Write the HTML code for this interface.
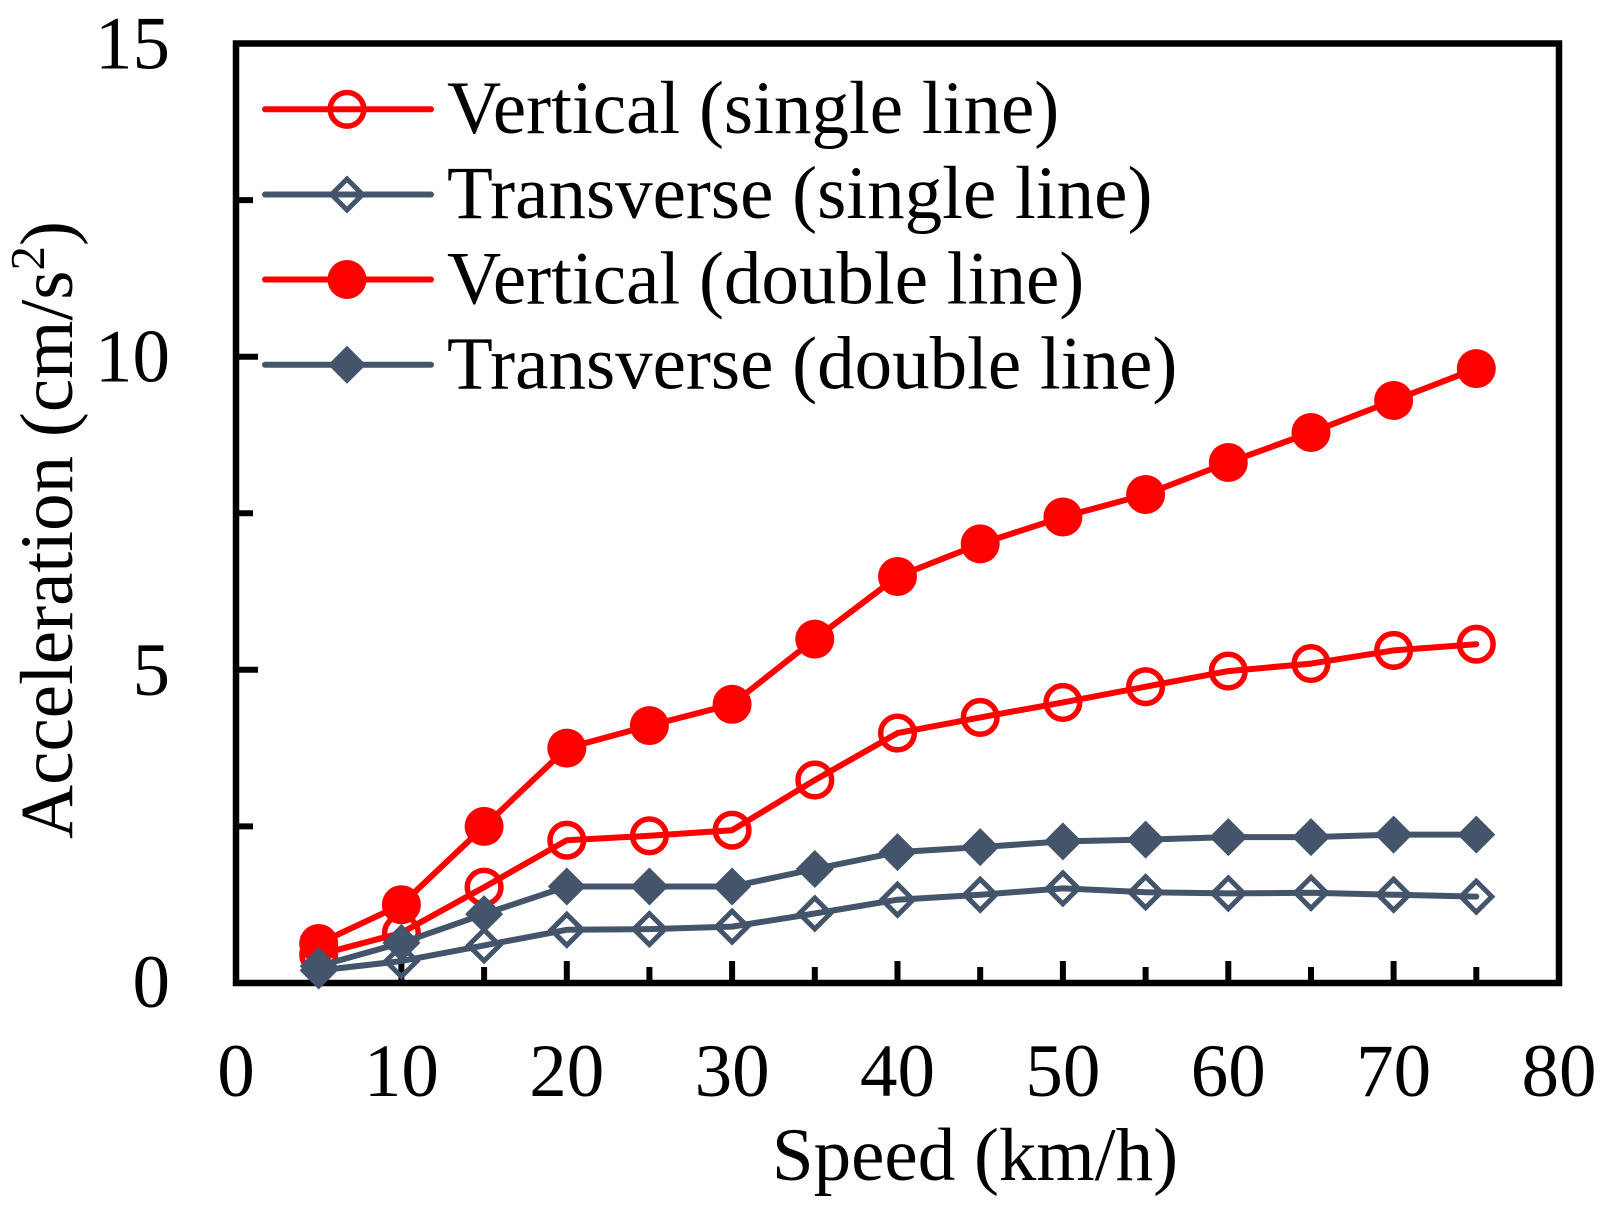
<!DOCTYPE html>
<html>
<head>
<meta charset="utf-8">
<style>
  html, body { margin: 0; padding: 0; background: #ffffff; }
  svg { display: block; }
  text { font-family: "Liberation Serif", "Times New Roman", serif; fill: #000; }
</style>
</head>
<body>
<svg width="1613" height="1211" viewBox="0 0 1613 1211" xmlns="http://www.w3.org/2000/svg">
  <rect x="0" y="0" width="1613" height="1211" fill="#ffffff"/>

  <!-- ticks -->
  <g stroke="#000" stroke-width="6">
    <!-- x ticks -->
    <line x1="318.7" y1="983" x2="318.7" y2="967"/>
    <line x1="401.4" y1="983" x2="401.4" y2="961"/>
    <line x1="484.1" y1="983" x2="484.1" y2="967"/>
    <line x1="566.8" y1="983" x2="566.8" y2="961"/>
    <line x1="649.4" y1="983" x2="649.4" y2="967"/>
    <line x1="732.1" y1="983" x2="732.1" y2="961"/>
    <line x1="814.8" y1="983" x2="814.8" y2="967"/>
    <line x1="897.5" y1="983" x2="897.5" y2="961"/>
    <line x1="980.2" y1="983" x2="980.2" y2="967"/>
    <line x1="1062.9" y1="983" x2="1062.9" y2="961"/>
    <line x1="1145.6" y1="983" x2="1145.6" y2="967"/>
    <line x1="1228.3" y1="983" x2="1228.3" y2="961"/>
    <line x1="1311.0" y1="983" x2="1311.0" y2="967"/>
    <line x1="1393.6" y1="983" x2="1393.6" y2="961"/>
    <line x1="1476.3" y1="983" x2="1476.3" y2="967"/>
    <!-- y ticks -->
    <line x1="236" y1="826.4" x2="253" y2="826.4"/>
    <line x1="236" y1="669.8" x2="258" y2="669.8"/>
    <line x1="236" y1="513.3" x2="253" y2="513.3"/>
    <line x1="236" y1="356.7" x2="258" y2="356.7"/>
    <line x1="236" y1="200.1" x2="253" y2="200.1"/>
  </g>

  <!-- frame -->
  <rect x="236" y="43.5" width="1323" height="939.5" fill="none" stroke="#000" stroke-width="6.5"/>

  <!-- Vertical (single line) -->
  <g stroke="#ff0000" stroke-width="6" fill="none" stroke-linejoin="round" stroke-linecap="round">
    <polyline points="318.7,954.8 401.4,932.9 484.1,887.2 566.8,840.2 649.4,835.8 732.1,830.2 814.8,780.1 897.5,733.1 980.2,717.4 1062.9,702.4 1145.6,686.7 1228.3,671.1 1311.0,663.6 1393.6,650.4 1476.3,644.2"/>
    <g stroke-width="5.5">
      <circle cx="318.7" cy="954.8" r="16.8"/>
      <circle cx="401.4" cy="932.9" r="16.8"/>
      <circle cx="484.1" cy="887.2" r="16.8"/>
      <circle cx="566.8" cy="840.2" r="16.8"/>
      <circle cx="649.4" cy="835.8" r="16.8"/>
      <circle cx="732.1" cy="830.2" r="16.8"/>
      <circle cx="814.8" cy="780.1" r="16.8"/>
      <circle cx="897.5" cy="733.1" r="16.8"/>
      <circle cx="980.2" cy="717.4" r="16.8"/>
      <circle cx="1062.9" cy="702.4" r="16.8"/>
      <circle cx="1145.6" cy="686.7" r="16.8"/>
      <circle cx="1228.3" cy="671.1" r="16.8"/>
      <circle cx="1311.0" cy="663.6" r="16.8"/>
      <circle cx="1393.6" cy="650.4" r="16.8"/>
      <circle cx="1476.3" cy="644.2" r="16.8"/>
    </g>
  </g>

  <!-- Transverse (single line) -->
  <g stroke="#44546a" stroke-width="6" fill="none" stroke-linejoin="round" stroke-linecap="round">
    <polyline points="318.7,970.5 401.4,961.1 484.1,945.4 566.8,929.8 649.4,929.1 732.1,926.6 814.8,913.5 897.5,899.7 980.2,894.7 1062.9,888.4 1145.6,892.2 1228.3,893.4 1311.0,892.8 1393.6,894.7 1476.3,896.6"/>
    <g stroke-width="5" stroke-linejoin="miter">
      <path d="M318.7,955 l15.5,15.5 l-15.5,15.5 l-15.5,-15.5 z"/>
      <path d="M401.4,945.6 l15.5,15.5 l-15.5,15.5 l-15.5,-15.5 z"/>
      <path d="M484.1,929.9 l15.5,15.5 l-15.5,15.5 l-15.5,-15.5 z"/>
      <path d="M566.8,914.3 l15.5,15.5 l-15.5,15.5 l-15.5,-15.5 z"/>
      <path d="M649.4,913.6 l15.5,15.5 l-15.5,15.5 l-15.5,-15.5 z"/>
      <path d="M732.1,911.1 l15.5,15.5 l-15.5,15.5 l-15.5,-15.5 z"/>
      <path d="M814.8,898 l15.5,15.5 l-15.5,15.5 l-15.5,-15.5 z"/>
      <path d="M897.5,884.2 l15.5,15.5 l-15.5,15.5 l-15.5,-15.5 z"/>
      <path d="M980.2,879.2 l15.5,15.5 l-15.5,15.5 l-15.5,-15.5 z"/>
      <path d="M1062.9,872.9 l15.5,15.5 l-15.5,15.5 l-15.5,-15.5 z"/>
      <path d="M1145.6,876.7 l15.5,15.5 l-15.5,15.5 l-15.5,-15.5 z"/>
      <path d="M1228.3,877.9 l15.5,15.5 l-15.5,15.5 l-15.5,-15.5 z"/>
      <path d="M1311.0,877.3 l15.5,15.5 l-15.5,15.5 l-15.5,-15.5 z"/>
      <path d="M1393.6,879.2 l15.5,15.5 l-15.5,15.5 l-15.5,-15.5 z"/>
      <path d="M1476.3,881.1 l15.5,15.5 l-15.5,15.5 l-15.5,-15.5 z"/>
    </g>
  </g>

  <!-- Vertical (double line) -->
  <g stroke="#ff0000" stroke-width="6" fill="none" stroke-linejoin="round" stroke-linecap="round">
    <polyline points="318.7,943.5 401.4,904.7 484.1,826.4 566.8,748.1 649.4,725.6 732.1,704.3 814.8,639.1 897.5,576.5 980.2,543.9 1062.9,517.0 1145.6,494.5 1228.3,462.5 1311.0,432.5 1393.6,400.5 1476.3,368.6"/>
  </g>
  <g fill="#ff0000">
    <circle cx="318.7" cy="943.5" r="19.5"/>
    <circle cx="401.4" cy="904.7" r="19.5"/>
    <circle cx="484.1" cy="826.4" r="19.5"/>
    <circle cx="566.8" cy="748.1" r="19.5"/>
    <circle cx="649.4" cy="725.6" r="19.5"/>
    <circle cx="732.1" cy="704.3" r="19.5"/>
    <circle cx="814.8" cy="639.1" r="19.5"/>
    <circle cx="897.5" cy="576.5" r="19.5"/>
    <circle cx="980.2" cy="543.9" r="19.5"/>
    <circle cx="1062.9" cy="517.0" r="19.5"/>
    <circle cx="1145.6" cy="494.5" r="19.5"/>
    <circle cx="1228.3" cy="462.5" r="19.5"/>
    <circle cx="1311.0" cy="432.5" r="19.5"/>
    <circle cx="1393.6" cy="400.5" r="19.5"/>
    <circle cx="1476.3" cy="368.6" r="19.5"/>
  </g>

  <!-- Transverse (double line) -->
  <g stroke="#44546a" stroke-width="6" fill="none" stroke-linejoin="round" stroke-linecap="round">
    <polyline points="318.7,966.1 401.4,942.9 484.1,914.1 566.8,886.5 649.4,886.5 732.1,886.5 814.8,869.0 897.5,852.1 980.2,847.1 1062.9,841.4 1145.6,839.6 1228.3,837.1 1311.0,837.1 1393.6,834.6 1476.3,834.6"/>
  </g>
  <g fill="#44546a">
    <path d="M318.7,947.1 l19,19 l-19,19 l-19,-19 z"/>
    <path d="M401.4,923.9 l19,19 l-19,19 l-19,-19 z"/>
    <path d="M484.1,895.1 l19,19 l-19,19 l-19,-19 z"/>
    <path d="M566.8,867.5 l19,19 l-19,19 l-19,-19 z"/>
    <path d="M649.4,867.5 l19,19 l-19,19 l-19,-19 z"/>
    <path d="M732.1,867.5 l19,19 l-19,19 l-19,-19 z"/>
    <path d="M814.8,850 l19,19 l-19,19 l-19,-19 z"/>
    <path d="M897.5,833.1 l19,19 l-19,19 l-19,-19 z"/>
    <path d="M980.2,828.1 l19,19 l-19,19 l-19,-19 z"/>
    <path d="M1062.9,822.4 l19,19 l-19,19 l-19,-19 z"/>
    <path d="M1145.6,820.6 l19,19 l-19,19 l-19,-19 z"/>
    <path d="M1228.3,818.1 l19,19 l-19,19 l-19,-19 z"/>
    <path d="M1311.0,818.1 l19,19 l-19,19 l-19,-19 z"/>
    <path d="M1393.6,815.6 l19,19 l-19,19 l-19,-19 z"/>
    <path d="M1476.3,815.6 l19,19 l-19,19 l-19,-19 z"/>
  </g>

  <!-- Legend -->
  <g stroke-linecap="round">
    <line x1="265" y1="109.3" x2="431" y2="109.3" stroke="#ff0000" stroke-width="6"/>
    <circle cx="347" cy="109.3" r="16.8" fill="none" stroke="#ff0000" stroke-width="5.5"/>
    <line x1="265" y1="194.5" x2="431" y2="194.5" stroke="#44546a" stroke-width="6"/>
    <path d="M347,179 l15.5,15.5 l-15.5,15.5 l-15.5,-15.5 z" fill="none" stroke="#44546a" stroke-width="5"/>
    <line x1="265" y1="279.5" x2="431" y2="279.5" stroke="#ff0000" stroke-width="6"/>
    <circle cx="347" cy="279.5" r="19.5" fill="#ff0000"/>
    <line x1="265" y1="364.8" x2="431" y2="364.8" stroke="#44546a" stroke-width="6"/>
    <path d="M347,345.8 l19,19 l-19,19 l-19,-19 z" fill="#44546a"/>
  </g>
  <g font-size="75">
    <text x="447" y="133">Vertical (single line)</text>
    <text x="447" y="218">Transverse (single line)</text>
    <text x="447" y="303.5">Vertical (double line)</text>
    <text x="447" y="388.5">Transverse (double line)</text>
  </g>

  <!-- Y tick labels -->
  <g font-size="75" text-anchor="end">
    <text x="170" y="1007">0</text>
    <text x="170" y="695">5</text>
    <text x="170" y="381.5">10</text>
    <text x="170" y="68.5">15</text>
  </g>

  <!-- X tick labels -->
  <g font-size="75" text-anchor="middle">
    <text x="236" y="1096">0</text>
    <text x="401.4" y="1096">10</text>
    <text x="566.8" y="1096">20</text>
    <text x="732.1" y="1096">30</text>
    <text x="897.5" y="1096">40</text>
    <text x="1062.9" y="1096">50</text>
    <text x="1228.3" y="1096">60</text>
    <text x="1393.6" y="1096">70</text>
    <text x="1559" y="1096">80</text>
  </g>

  <!-- Axis titles -->
  <text x="975" y="1180" font-size="75" text-anchor="middle">Speed (km/h)</text>
  <text transform="translate(72,530) rotate(-90)" font-size="75" text-anchor="middle">Acceleration (cm/s<tspan font-size="49" dy="-28">2</tspan><tspan dy="28">)</tspan></text>
</svg>
</body>
</html>
